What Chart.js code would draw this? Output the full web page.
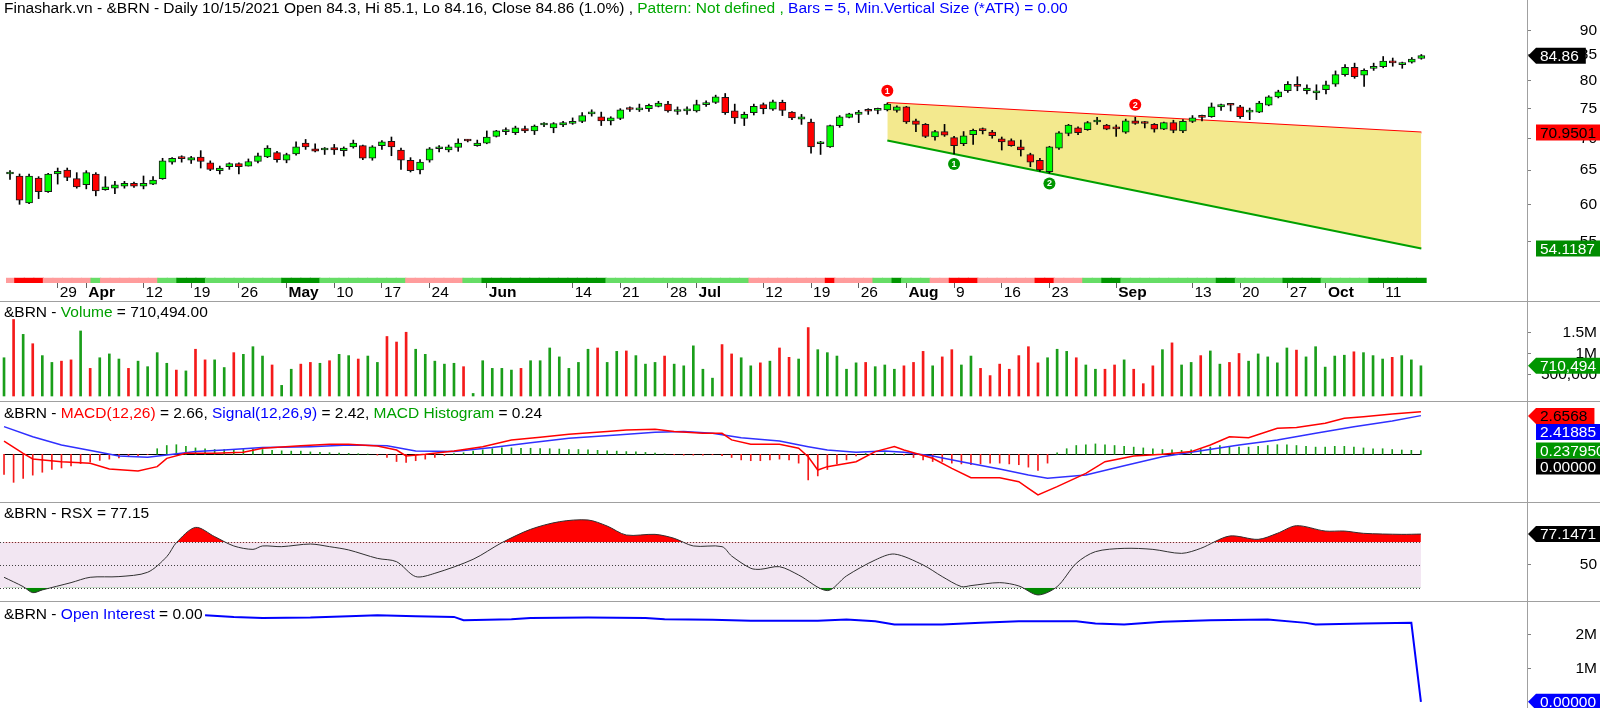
<!DOCTYPE html>
<html>
<head>
<meta charset="utf-8">
<title>&amp;BRN Daily</title>
<script src="https://cdn.jsdelivr.net/npm/chart.js@4.4.1/dist/chart.umd.min.js"></script>
<style>
  html, body { margin: 0; padding: 0; background: #fff; }
  #board { position: relative; width: 1600px; height: 708px; overflow: hidden; background: #fff; }
  #board canvas { position: absolute; left: 0; }
  .hline { position: absolute; left: 0; width: 1600px; height: 1px; background: #a0a0a0; }
  .vline { position: absolute; top: 0; left: 1527px; width: 1px; height: 708px; background: #a0a0a0; }
</style>
</head>
<body>
<div id="board">
  <canvas id="priceChart" width="1600" height="301" style="top:0"></canvas>
  <canvas id="volumeChart" width="1600" height="101" style="top:301px"></canvas>
  <canvas id="macdChart" width="1600" height="100" style="top:402px"></canvas>
  <canvas id="rsxChart" width="1600" height="100" style="top:502px"></canvas>
  <canvas id="oiChart" width="1600" height="106" style="top:602px"></canvas>
  <div class="hline" style="top:301px"></div>
  <div class="hline" style="top:401px"></div>
  <div class="hline" style="top:502px"></div>
  <div class="hline" style="top:601px"></div>
  <div class="vline"></div>
</div>
<script>
const FONT = '"Liberation Sans", Arial, sans-serif';
const FS = 15.5;

// x axis: bar index of each labelled day (Mar 22 .. Oct 15 2021, 149 bars)
const tickBars = [5, 8, 14, 19, 24, 29, 34, 39, 44, 50, 59, 64, 69, 72, 79, 84, 89, 94, 99, 104, 109, 116, 124, 129, 134, 138, 144];
const tickLabels = ['29', 'Apr', '12', '19', '26', 'May', '10', '17', '24', 'Jun', '14', '21', '28', 'Jul', '12', '19', '26', 'Aug', '9', '16', '23', 'Sep', '13', '20', '27', 'Oct', '11'];
const monthNames = ['Apr', 'May', 'Jun', 'Jul', 'Aug', 'Sep', 'Oct'];

const opens = [
  64.4, 64.1, 60.2, 63.8, 61.8, 64.4, 65.0, 63.7, 62.8, 64.4,
  62.1, 62.3, 62.6, 63.0, 62.6, 62.9, 63.7, 66.2, 66.8, 66.5,
  67.0, 66.1, 64.9, 65.5, 66.0, 65.6, 66.3, 67.0, 67.7, 66.5,
  67.5, 69.2, 68.3, 68.1, 68.5, 68.0, 68.6, 68.8, 66.8, 68.8,
  69.5, 68.1, 66.5, 65.0, 66.5, 68.3, 68.1, 68.5, 69.6, 68.8,
  69.2, 70.3, 71.1, 70.9, 71.6, 71.2, 72.2, 71.7, 72.2, 72.45,
  72.8, 74.1, 73.6, 72.9, 73.3, 74.9, 74.8, 75.0, 75.4, 75.8,
  74.5, 74.6, 74.6, 75.7, 76.1, 77.0, 74.6, 73.3, 74.3, 75.7,
  74.9, 76.1, 74.4, 73.2, 72.7, 69.1, 68.6, 72.1, 73.5, 74.0,
  74.6, 74.7, 74.8, 74.7, 75.3, 72.9, 72.3, 70.2, 71.1, 70.1,
  69.1, 70.6, 71.3, 71.0, 69.9, 69.6, 68.6, 67.4, 66.5, 64.75,
  68.4, 70.8, 71.7, 71.4, 72.7, 72.2, 71.6, 71.0, 72.9, 72.5,
  72.3, 71.5, 72.6, 71.2, 72.8, 73.55, 73.6, 75.3, 75.75, 75.3,
  74.4, 74.4, 75.6, 77.1, 78.2, 79.3, 78.2, 77.8, 78.4, 79.4,
  81.2, 82.6, 81.1, 82.4, 82.7, 83.5, 83.1, 83.6, 84.3
];
const highs = [
  64.9, 64.4, 64.4, 64.0, 64.5, 65.3, 65.3, 64.6, 64.9, 64.6,
  64.0, 63.3, 63.3, 63.2, 64.1, 64.0, 66.8, 66.9, 67.2, 67.1,
  68.0, 66.4, 65.6, 66.1, 66.1, 66.7, 67.6, 68.8, 67.9, 67.6,
  69.4, 69.8, 69.1, 68.5, 69.0, 68.6, 69.7, 68.9, 68.8, 69.6,
  70.2, 68.4, 66.9, 66.6, 68.5, 68.8, 68.9, 69.9, 69.8, 69.7,
  71.2, 71.3, 71.7, 72.0, 72.0, 72.2, 72.6, 72.6, 72.8, 73.4,
  74.3, 74.8, 74.4, 73.6, 75.0, 75.3, 75.8, 75.8, 76.3, 76.3,
  75.3, 75.3, 76.5, 76.4, 77.4, 77.7, 75.8, 74.4, 75.8, 76.0,
  76.5, 76.5, 74.5, 74.0, 73.2, 69.5, 72.2, 73.8, 74.2, 74.7,
  75.0, 75.1, 76.0, 75.5, 75.4, 73.2, 72.45, 71.3, 72.3, 70.3,
  71.1, 71.5, 71.7, 71.3, 70.2, 69.9, 69.7, 67.6, 66.8, 68.7,
  71.1, 72.3, 71.9, 72.8, 73.5, 72.3, 72.2, 73.2, 73.5, 72.8,
  72.45, 72.7, 73.0, 73.1, 73.8, 73.9, 76.0, 75.8, 75.9, 75.6,
  75.1, 76.3, 77.3, 78.3, 79.9, 80.8, 79.3, 79.3, 80.0, 81.9,
  83.1, 83.4, 82.3, 83.4, 84.7, 84.4, 83.6, 84.5, 85.1
];
const lows = [
  63.6, 60.0, 60.1, 60.8, 61.7, 62.9, 63.4, 62.3, 62.2, 61.2,
  62.0, 61.5, 62.3, 62.4, 62.2, 62.8, 63.6, 65.9, 66.2, 66.0,
  65.3, 64.9, 64.4, 65.1, 64.4, 65.6, 66.1, 66.9, 66.2, 66.1,
  67.3, 68.2, 67.8, 67.4, 67.4, 67.15, 68.4, 66.6, 66.5, 68.2,
  67.2, 65.1, 64.7, 64.4, 66.2, 67.8, 67.8, 67.9, 69.4, 68.7,
  69.1, 70.2, 70.6, 70.6, 70.9, 70.6, 71.9, 70.9, 71.9, 72.3,
  72.6, 73.7, 72.1, 72.2, 73.1, 74.5, 74.5, 74.5, 75.3, 74.4,
  74.0, 74.0, 74.4, 75.4, 75.9, 74.0, 72.45, 72.1, 73.9, 74.1,
  74.7, 73.8, 73.1, 72.3, 67.6, 67.4, 68.5, 71.8, 73.4, 72.6,
  74.0, 74.1, 74.6, 74.4, 72.45, 71.1, 70.1, 69.7, 70.3, 67.5,
  68.8, 69.0, 70.7, 70.0, 68.1, 68.7, 67.15, 65.5, 64.8, 64.5,
  68.2, 70.4, 70.6, 71.3, 72.3, 71.4, 70.3, 70.8, 72.3, 71.7,
  71.0, 71.4, 70.9, 70.9, 72.6, 72.9, 73.5, 74.7, 74.6, 73.3,
  73.1, 74.3, 75.5, 76.9, 77.9, 78.2, 77.6, 76.6, 77.6, 79.0,
  80.9, 80.5, 79.0, 82.0, 82.5, 82.8, 82.4, 83.4, 84.16
];
const closes = [
  64.45, 60.6, 64.1, 61.8, 64.4, 64.8, 63.9, 62.5, 64.6, 61.9,
  62.5, 62.8, 63.0, 62.6, 63.0, 63.5, 66.4, 66.8, 66.75, 66.9,
  66.3, 65.1, 65.3, 66.0, 65.5, 66.3, 67.2, 68.4, 66.6, 67.4,
  68.6, 68.6, 67.9, 68.15, 68.1, 68.4, 69.2, 66.8, 68.6, 69.4,
  68.6, 66.5, 64.9, 66.2, 68.3, 68.45, 68.6, 69.2, 69.55, 69.2,
  70.2, 71.2, 71.2, 71.7, 71.2, 72.0, 72.25, 72.45, 72.6, 72.8,
  73.8, 74.3, 72.9, 73.4, 74.8, 74.85, 75.1, 75.6, 76.0, 74.6,
  74.6, 74.65, 75.7, 76.0, 77.1, 74.3, 73.4, 74.0, 75.4, 75.0,
  76.2, 74.7, 73.4, 73.6, 68.6, 69.2, 72.1, 73.6, 74.1, 74.4,
  74.55, 74.8, 75.8, 75.3, 72.7, 72.3, 70.3, 71.1, 70.5, 68.8,
  70.4, 71.3, 71.25, 70.4, 69.4, 68.8, 68.1, 66.2, 65.0, 68.6,
  70.9, 72.2, 70.9, 72.6, 72.9, 71.5, 71.55, 72.9, 72.45, 72.45,
  71.5, 72.6, 71.3, 72.8, 73.4, 73.5, 75.3, 75.7, 75.6, 73.6,
  74.5, 76.0, 77.1, 78.0, 79.4, 79.0, 78.7, 78.2, 79.3, 81.2,
  82.6, 80.8, 82.0, 82.5, 83.8, 83.45, 83.15, 84.2, 84.86
];
// volume, thousands of contracts
const volumesK = [
  900, 1800, 1450, 1230, 950, 790, 820, 850, 1530, 650,
  900, 990, 870, 650, 820, 690, 1020, 770, 610, 590,
  1100, 850, 850, 670, 1020, 980, 1160, 940, 730, 250,
  630, 750, 790, 770, 830, 980, 950, 870, 940, 790,
  1400, 1270, 1500, 1100, 980, 820, 750, 770, 690, 60,
  830, 650, 650, 610, 650, 830, 830, 1130, 920, 650,
  790, 1100, 1130, 790, 1050, 1060, 950, 750, 790, 940,
  750, 710, 1180, 630, 420, 1210, 990, 900, 710, 780,
  820, 1130, 910, 870, 1610, 1090, 1020, 940, 630, 780,
  790, 690, 730, 630, 710, 790, 1050, 710, 920, 1090,
  730, 940, 650, 480, 750, 630, 950, 1160, 780, 900,
  1100, 1050, 900, 730, 630, 630, 730, 850, 630, 290,
  710, 1090, 1250, 730, 790, 950, 1060, 750, 790, 1000,
  820, 990, 920, 780, 1130, 1080, 920, 1160, 680, 940,
  960, 1040, 1020, 950, 870, 910, 950, 850, 710.494
];
// trend ribbon under the price pane: R red, P pink, L light green, G green (one letter per bar)
const trendBand =
  'PRRRP' + 'PPPP' + 'LPPPP' + 'PPLLG' + 'GGLLL' + 'LLLLL' + 'GGGGL' + 'LLLLL' + 'LLLPP' + 'PPPPL' +
  'LGGGG' + 'GGGGG' + 'GGGGL' + 'LLLLL' + 'LLLLL' + 'LLLLP' + 'PPPPP' + 'PPRPP' + 'PPLLG' + 'LLLPP' +
  'RRRPP' + 'PPPPR' + 'RPPPL' + 'LGGLL' + 'LLLLL' + 'LLLGG' + 'LLLLL' + 'GGGGL' + 'LLLLG' + 'GGGGG';

// wedge pattern: [bar, price]
const upperLine = [[92, 76.0], [148, 70.9501]];
const lowerLine = [[92, 69.64], [148, 54.1187]];
const peakMarks = [[92, 78.2, '1'], [118, 75.7, '2']];
const troughMarks = [[99, 65.9, '1'], [109, 63.0, '2']];

// MACD(12,26) and signal, [bar, value]
const macdPts = [
  [0, 0.83], [2, 0.06], [3, -0.29], [6, -0.46], [9, -0.56], [11, -0.92], [14, -1.04], [16, -0.77],
  [17, -0.25], [19, 0.06], [22, 0.06], [25, 0.13], [27, 0.38], [31, 0.54], [34, 0.63], [36, 0.63],
  [39, 0.52], [41, 0.27], [42, -0.10], [44, 0.0], [47, 0.21], [50, 0.48], [53, 0.90], [56, 1.06],
  [59, 1.25], [63, 1.42], [65, 1.52], [68, 1.56], [70, 1.42], [73, 1.31], [75, 1.31], [76, 0.90],
  [78, 0.63], [81, 0.63], [83, 0.38], [84, -0.15], [85, -0.98], [86, -0.77], [89, -0.46], [91, 0.17],
  [93, 0.48], [94, 0.27], [97, -0.25], [99, -0.88], [101, -1.46], [104, -1.46], [106, -1.71], [107, -2.13],
  [108, -2.54], [110, -2.02], [113, -1.19], [115, -0.46], [118, -0.10], [121, 0.0], [124, 0.17], [126, 0.58],
  [128, 1.10], [130, 1.04], [133, 1.63], [135, 1.67], [138, 1.94], [140, 2.25], [142, 2.35], [145, 2.52],
  [148, 2.6568]
];
const signalPts = [
  [0, 1.73], [3, 1.10], [6, 0.58], [10, 0.13], [12, -0.10], [15, -0.19], [17, -0.04], [20, 0.17],
  [23, 0.27], [27, 0.42], [32, 0.48], [36, 0.58], [40, 0.54], [43, 0.21], [47, 0.17], [51, 0.42],
  [55, 0.73], [59, 1.0], [64, 1.21], [68, 1.38], [71, 1.42], [74, 1.31], [77, 1.04], [81, 0.83],
  [84, 0.48], [86, 0.27], [89, 0.13], [92, 0.21], [94, 0.13], [97, -0.10], [100, -0.46], [104, -0.92],
  [107, -1.29], [109, -1.5], [113, -1.29], [117, -0.71], [121, -0.15], [124, 0.13], [129, 0.58], [133, 0.90],
  [137, 1.31], [141, 1.73], [145, 2.08], [148, 2.41885]
];
const macdHist = [
  -1.25, -1.75, -1.5, -1.3, -1.12, -0.95, -0.85, -0.72, -0.58, -0.48,
  -0.38, -0.3, -0.22, -0.15, -0.08, -0.02, 0.35, 0.55, 0.6, 0.5,
  0.4, 0.35, 0.3, 0.3, 0.3, 0.3, 0.32, 0.3, 0.25, 0.22,
  0.2, 0.2, 0.15, 0.12, 0.1, 0.08, 0.06, 0.04, 0.02, -0.05,
  -0.2, -0.45, -0.5, -0.4, -0.3, -0.2, -0.08, 0.05, 0.1, 0.2,
  0.28, 0.35, 0.4, 0.4, 0.38, 0.38, 0.36, 0.35, 0.33, 0.3,
  0.3, 0.28, 0.25, 0.22, 0.2, 0.17, 0.15, 0.12, 0.08, 0.03,
  -0.03, -0.05, -0.05, -0.05, -0.03, -0.08, -0.2, -0.35, -0.4, -0.4,
  -0.35, -0.3, -0.35, -0.55, -1.6, -1.35, -0.95, -0.6, -0.35, -0.1,
  0.05, -0.02, 0.1, 0.05, -0.05, -0.2, -0.35, -0.45, -0.45, -0.55,
  -0.6, -0.65, -0.6, -0.55, -0.55, -0.6, -0.65, -0.8, -1.0, -0.55,
  0.1, 0.35, 0.55, 0.6, 0.65, 0.6, 0.55, 0.5, 0.45, 0.4,
  0.35, 0.3, 0.28, 0.25, 0.28, 0.35, 0.45, 0.55, 0.5, 0.45,
  0.45, 0.5, 0.55, 0.6, 0.6, 0.55, 0.5, 0.45, 0.45, 0.5,
  0.5, 0.45, 0.4, 0.35, 0.35, 0.3, 0.27, 0.25, 0.2379
];
// RSX, [bar, value]
const rsxPts = [
  [0, 39.2], [2, 31.0], [3, 25.7], [4, 28.1], [7, 34.5], [9, 39.2], [12, 39.8], [15, 43.6],
  [17, 57.3], [18, 69.6], [20, 83.0], [22, 74.9], [24, 66.7], [26, 63.7], [27, 66.7], [29, 66.1],
  [32, 68.4], [34, 66.1], [36, 63.2], [39, 55.8], [41, 52.9], [43, 39.8], [45, 42.7], [49, 55.0],
  [52, 69.6], [55, 81.3], [58, 88.0], [61, 89.5], [63, 84.2], [65, 76.3], [68, 76.9], [70, 73.4],
  [72, 66.7], [75, 66.1], [76, 57.9], [78, 47.1], [79, 46.2], [81, 48.5], [83, 41.2], [86, 27.5],
  [88, 40.4], [91, 54.4], [93, 59.6], [96, 50.0], [98, 39.8], [100, 31.0], [101, 31.9], [104, 34.5],
  [106, 31.6], [108, 23.7], [110, 31.0], [112, 51.5], [114, 61.7], [117, 64.6], [120, 63.7], [123, 60.2],
  [125, 64.6], [128, 75.4], [131, 72.5], [133, 77.8], [135, 84.5], [138, 79.8], [140, 79.8], [142, 77.8],
  [146, 76.9], [148, 77.1471]
];
// open interest, millions, [bar, value]
const oiPts = [
  [21, 2.585], [24, 2.534], [27, 2.504], [32, 2.514], [36, 2.55], [39, 2.585], [43, 2.55], [47, 2.534],
  [48, 2.436], [53, 2.466], [55, 2.504], [61, 2.514], [67, 2.504], [69, 2.466], [74, 2.446], [78, 2.416],
  [85, 2.416], [88, 2.455], [91, 2.405], [93, 2.306], [98, 2.306], [102, 2.356], [106, 2.405], [112, 2.405],
  [114, 2.336], [117, 2.306], [121, 2.386], [126, 2.436], [132, 2.455], [136, 2.356], [137, 2.306], [142, 2.336],
  [147, 2.356], [148, 0]
];

// ---------------------------------------------------------------
const bandColors = { R: '#ff0000', P: '#ff9c9c', L: '#66dd66', G: '#009600' };
const UP = '#00ff00', DOWN = '#ff0000';
const VOL_UP = '#1a9e1a', VOL_DOWN = '#f41a1a';
const X_MIN = -0.42, X_MAX = 159.08;
const isUp = i => closes[i] >= opens[i];
const toXY = pts => pts.map(([x, y]) => ({ x, y }));

function xAxis(show) {
  return {
    type: 'linear', min: X_MIN, max: X_MAX, bounds: 'data', display: show, offset: false,
    afterBuildTicks: s => { s.ticks = tickBars.map(v => ({ value: v })); },
    afterFit: s => {
      if (show) s.height = 18;
      s.paddingLeft = 0;
      s.paddingRight = 0;
    },
    grid: { offset: false, drawOnChartArea: false, drawTicks: true, tickLength: 5, color: '#606060' },
    border: { display: false },
    ticks: {
      autoSkip: false, maxRotation: 0, minRotation: 0, align: 'start', labelOffset: 2, padding: -5,
      color: '#000',
      font: ctx => ({ family: FONT, size: FS, weight: monthNames.includes(tickLabels[ctx.index]) ? 'bold' : 'normal' }),
      callback: (v, i) => tickLabels[i]
    }
  };
}

function yAxis(min, max, tickValues, label, type) {
  return {
    type: type || 'linear', position: 'right', min, max, bounds: 'data',
    afterBuildTicks: s => { s.ticks = tickValues.map(v => ({ value: v })); },
    afterFit: s => { s.width = 70; s.paddingTop = 0; s.paddingBottom = 0; },
    grid: { drawOnChartArea: false, drawTicks: true, tickLength: 4, color: '#808080' },
    border: { display: false },
    ticks: { display: tickValues.length > 0, crossAlign: 'far', padding: 2, color: '#000', font: { family: FONT, size: FS }, callback: label }
  };
}

function baseOptions(scales) {
  return {
    responsive: false, animation: false, devicePixelRatio: 1, events: [],
    layout: { padding: { left: 0, right: 3, top: 0, bottom: 0 } },
    plugins: { legend: { display: false }, tooltip: { enabled: false } },
    scales
  };
}

function titlePlugin(y, parts) {
  return {
    id: 'paneTitle',
    afterDraw(chart) {
      const ctx = chart.ctx;
      ctx.save();
      ctx.font = `${FS}px ${FONT}`;
      ctx.textBaseline = 'middle';
      ctx.textAlign = 'left';
      let x = 4;
      parts.forEach(([t, c]) => {
        ctx.fillStyle = c;
        ctx.fillText(t, x, y);
        x += ctx.measureText(t).width;
      });
      ctx.restore();
    }
  };
}

function badgePlugin(items) {
  return {
    id: 'badges',
    afterDraw(chart) {
      const { ctx, chartArea } = chart;
      const yScale = chart.scales.y;
      const h = 16;
      const list = items.map(b => ({ ...b, y: yScale.getPixelForValue(b.value) }))
        .sort((a, b) => a.y - b.y);
      list.forEach((b, i) => {
        b.y = Math.max(b.y, chartArea.top + h / 2 + 6);
        if (i > 0 && b.y - list[i - 1].y < h) b.y = list[i - 1].y + h;
      });
      ctx.save();
      ctx.font = `${FS}px ${FONT}`;
      ctx.textBaseline = 'middle';
      ctx.textAlign = 'left';
      list.forEach(b => {
        const tip = chartArea.right + 1;
        const left = tip + 8;
        const w = ctx.measureText(b.text).width;
        const right = left + w + 11;
        ctx.beginPath();
        if (b.arrow) {
          ctx.moveTo(tip, b.y);
          ctx.lineTo(left, b.y - h / 2);
          ctx.lineTo(right, b.y - h / 2);
          ctx.lineTo(right, b.y + h / 2);
          ctx.lineTo(left, b.y + h / 2);
          ctx.closePath();
        } else {
          ctx.rect(left, b.y - h / 2, right - left, h);
        }
        ctx.fillStyle = b.bg;
        ctx.fill();
        ctx.fillStyle = b.fg;
        ctx.fillText(b.text, left + 4, b.y + 1);
      });
      ctx.restore();
    }
  };
}

const markerDigits = {
  id: 'markerDigits',
  afterDatasetsDraw(chart) {
    const ctx = chart.ctx;
    ctx.save();
    ctx.font = `bold 9px ${FONT}`;
    ctx.textAlign = 'center';
    ctx.textBaseline = 'middle';
    ctx.fillStyle = '#fff';
    chart.data.datasets.forEach((ds, di) => {
      if (!ds.digits) return;
      chart.getDatasetMeta(di).data.forEach((pt, i) => ctx.fillText(ds.digits[i], pt.x, pt.y + 0.5));
    });
    ctx.restore();
  }
};

// ---------------- price pane ----------------
const barIdx = opens.map((_, i) => i);
new Chart(document.getElementById('priceChart'), {
  data: {
    datasets: [
      {
        type: 'bar', yAxisID: 'band', order: 10, grouped: false, barThickness: 10,
        data: barIdx.map(i => ({ x: i, y: [0, 1] })),
        backgroundColor: barIdx.map(i => bandColors[trendBand[i]])
      },
      {
        type: 'line', yAxisID: 'y', order: 6, data: toXY(upperLine),
        borderColor: '#ff0000', borderWidth: 2, pointRadius: 0, fill: false
      },
      {
        type: 'line', yAxisID: 'y', order: 5, data: toXY(lowerLine),
        borderColor: '#00a000', borderWidth: 2, pointRadius: 0,
        fill: { target: 1 }, backgroundColor: '#f3e98e'
      },
      {
        type: 'bar', yAxisID: 'y', order: 2, grouped: false, barThickness: 1,
        data: barIdx.map(i => ({ x: i, y: [lows[i], highs[i]] })),
        backgroundColor: '#000'
      },
      {
        type: 'bar', yAxisID: 'y', order: 1, grouped: false, barThickness: 7, minBarLength: 2,
        data: barIdx.map(i => ({ x: i, y: [opens[i], closes[i]] })),
        backgroundColor: barIdx.map(i => isUp(i) ? UP : DOWN),
        borderColor: '#1a1a1a', borderWidth: 1, borderSkipped: false
      },
      {
        type: 'line', yAxisID: 'y', order: 0, showLine: false,
        data: peakMarks.concat(troughMarks).map(([x, y]) => ({ x, y })),
        digits: peakMarks.concat(troughMarks).map(m => m[2]),
        pointRadius: 6, pointBorderWidth: 0,
        pointBackgroundColor: peakMarks.map(() => '#ff0000').concat(troughMarks.map(() => '#009600'))
      }
    ]
  },
  options: baseOptions({
    x: xAxis(true),
    y: yAxis(49.94, 95.29, [55, 60, 65, 70, 75, 80, 85, 90], v => String(v), 'logarithmic'),
    band: { type: 'linear', display: false, min: 0, max: 56.6 }
  }),
  plugins: [
    markerDigits,
    titlePlugin(9, [
      ['Finashark.vn - &BRN - Daily 10/15/2021 Open 84.3, Hi 85.1, Lo 84.16, Close 84.86 (1.0%) , ', '#000'],
      ['Pattern: Not defined , ', '#00a800'],
      ['Bars = 5, Min.Vertical Size (*ATR) = 0.00', '#0000ff']
    ]),
    badgePlugin([
      { value: 84.86, text: '84.86', bg: '#000', fg: '#fff', arrow: true },
      { value: 70.9501, text: '70.9501', bg: '#ff0000', fg: '#000', arrow: false },
      { value: 54.1187, text: '54.1187', bg: '#008c00', fg: '#fff', arrow: false }
    ])
  ]
});

// ---------------- volume pane ----------------
new Chart(document.getElementById('volumeChart'), {
  data: {
    datasets: [{
      type: 'bar', grouped: false, barThickness: 2,
      data: volumesK.map((v, i) => ({ x: i, y: v })),
      backgroundColor: barIdx.map(i => isUp(i) ? VOL_UP : VOL_DOWN)
    }]
  },
  options: baseOptions({
    x: xAxis(false),
    y: yAxis(-141, 2235, [500, 1000, 1500], v => ({ 500: '500,000', 1000: '1M', 1500: '1.5M' })[v])
  }),
  plugins: [
    titlePlugin(11.5, [['&BRN - ', '#000'], ['Volume', '#00a000'], [' = 710,494.00', '#000']]),
    badgePlugin([{ value: 710.494, text: '710,494', bg: '#009600', fg: '#fff', arrow: true }])
  ]
});

// ---------------- MACD pane ----------------
const zeroLine = {
  id: 'zeroLine',
  beforeDatasetsDraw(chart) {
    const { ctx, scales: { x, y } } = chart;
    ctx.save();
    ctx.strokeStyle = '#000';
    ctx.lineWidth = 1;
    ctx.beginPath();
    ctx.moveTo(x.getPixelForValue(0), Math.round(y.getPixelForValue(0)) + 0.5);
    ctx.lineTo(x.getPixelForValue(148), Math.round(y.getPixelForValue(0)) + 0.5);
    ctx.stroke();
    ctx.restore();
  }
};
new Chart(document.getElementById('macdChart'), {
  data: {
    datasets: [
      {
        type: 'bar', grouped: false, barThickness: 1, order: 3,
        data: macdHist.map((v, i) => ({ x: i, y: v })),
        backgroundColor: macdHist.map(v => v >= 0 ? VOL_UP : VOL_DOWN)
      },
      { type: 'line', order: 2, data: toXY(signalPts), borderColor: '#3030ff', borderWidth: 1.5, pointRadius: 0, tension: 0 },
      { type: 'line', order: 1, data: toXY(macdPts), borderColor: '#ff0000', borderWidth: 1.5, pointRadius: 0, tension: 0 }
    ]
  },
  options: baseOptions({ x: xAxis(false), y: yAxis(-2.98, 3.27, [], v => '') }),
  plugins: [
    zeroLine,
    titlePlugin(11.5, [
      ['&BRN - ', '#000'], ['MACD(12,26)', '#ff0000'], [' = 2.66, ', '#000'],
      ['Signal(12,26,9)', '#0000ff'], [' = 2.42, ', '#000'],
      ['MACD Histogram', '#00a000'], [' = 0.24', '#000']
    ]),
    badgePlugin([
      { value: 2.6568, text: '2.6568', bg: '#ff0000', fg: '#000', arrow: true },
      { value: 2.41885, text: '2.41885', bg: '#0000ff', fg: '#fff', arrow: false },
      { value: 0.23795, text: '0.237950', bg: '#009600', fg: '#fff', arrow: false },
      { value: 0, text: '0.00000', bg: '#000', fg: '#fff', arrow: false }
    ])
  ]
});

// ---------------- RSX pane ----------------
const rsxBand = {
  id: 'rsxBand',
  beforeDatasetsDraw(chart) {
    const { ctx, chartArea, scales: { x, y } } = chart;
    const left = chartArea.left, right = x.getPixelForValue(148);
    ctx.save();
    ctx.fillStyle = '#f2e6f2';
    ctx.fillRect(left, y.getPixelForValue(70), right - left, y.getPixelForValue(30) - y.getPixelForValue(70));
    ctx.strokeStyle = '#404040';
    ctx.lineWidth = 1;
    ctx.setLineDash([1, 2]);
    [70, 50, 30].forEach(v => {
      const py = Math.round(y.getPixelForValue(v)) + 0.5;
      ctx.beginPath();
      ctx.moveTo(left, py);
      ctx.lineTo(right, py);
      ctx.stroke();
    });
    ctx.restore();
  }
};
new Chart(document.getElementById('rsxChart'), {
  data: {
    datasets: [
      {
        type: 'line', order: 2, data: toXY(rsxPts), borderWidth: 0, pointRadius: 0, tension: 0.3,
        fill: { target: { value: 30 }, above: 'rgba(0,0,0,0)', below: '#008800' }
      },
      {
        type: 'line', order: 1, data: toXY(rsxPts), borderColor: '#303030', borderWidth: 1, pointRadius: 0, tension: 0.3,
        fill: { target: { value: 70 }, above: '#ff0000', below: 'rgba(0,0,0,0)' }
      }
    ]
  },
  options: baseOptions({ x: xAxis(false), y: yAxis(17.5, 105.3, [50], v => String(v)) }),
  plugins: [
    rsxBand,
    titlePlugin(11.5, [['&BRN - RSX = 77.15', '#000']]),
    badgePlugin([{ value: 77.1471, text: '77.1471', bg: '#000', fg: '#fff', arrow: true }])
  ]
});

// ---------------- open interest pane ----------------
new Chart(document.getElementById('oiChart'), {
  data: {
    datasets: [{
      type: 'line', data: toXY(oiPts), borderColor: '#0000ff', borderWidth: 2, pointRadius: 0, tension: 0
    }]
  },
  options: baseOptions({ x: xAxis(false), y: yAxis(-0.185, 2.979, [1, 2], v => v + 'M') }),
  plugins: [
    titlePlugin(13, [['&BRN - ', '#000'], ['Open Interest', '#0000ff'], [' = 0.00', '#000']]),
    badgePlugin([{ value: 0, text: '0.00000', bg: '#0000ff', fg: '#fff', arrow: true }])
  ]
});
</script>
</body>
</html>
